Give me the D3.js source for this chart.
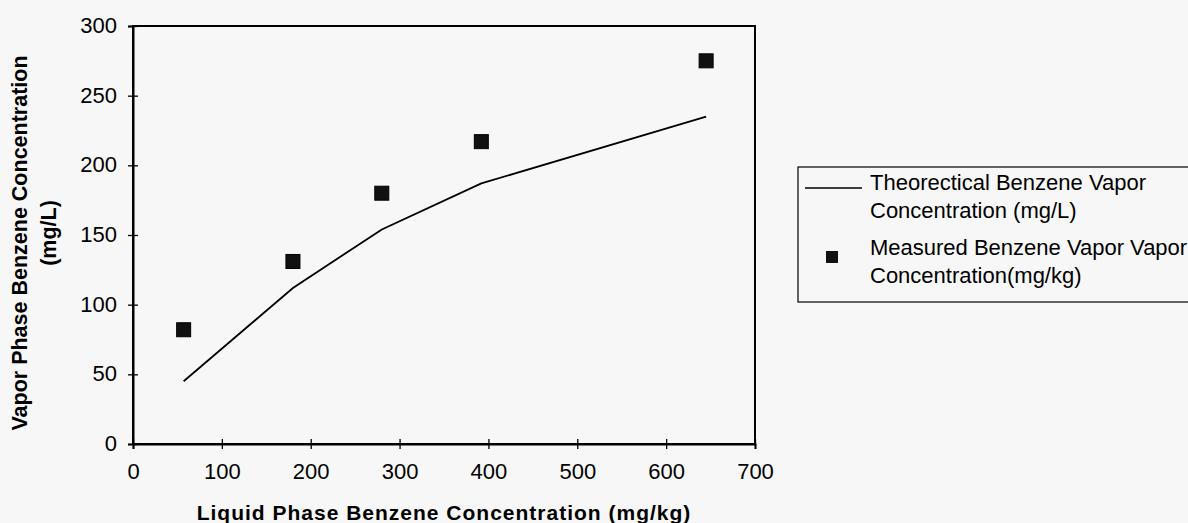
<!DOCTYPE html>
<html>
<head>
<meta charset="utf-8">
<script src="https://cdn.jsdelivr.net/npm/d3@7/dist/d3.min.js"></script>
<style>
  html, body { margin: 0; padding: 0; background: #f7f7f7; }
  svg { display: block; }
  text { font-family: Arial, "Liberation Sans", sans-serif; fill: #000; }
</style>
</head>
<body>
<svg id="chart" width="1188" height="523"></svg>
<script>
// ---- data ----
const theoX = [57, 180, 280, 392, 645];
const theoY = [45, 112, 154, 187, 235];
const measX = [57, 180, 280, 392, 645];
const measY = [82, 131, 180, 217, 275];
const xTicks = [0, 100, 200, 300, 400, 500, 600, 700];
const yTicks = [0, 50, 100, 150, 200, 250, 300];
const legendLabels = [
  ["Theorectical Benzene Vapor", "Concentration (mg/L)"],
  ["Measured Benzene Vapor Vapor", "Concentration(mg/kg)"]
];
const xTitle = "Liquid Phase Benzene Concentration (mg/kg)";
const yTitle = ["Vapor Phase Benzene Concentration", "(mg/L)"];

// ---- layout ----
const svg = d3.select("#chart");
const L = 133, R = 755, T = 26, B = 444;
const x = d3.scaleLinear().domain([0, 700]).range([L, R]);
const y = d3.scaleLinear().domain([0, 300]).range([B, T]);
const FONT = "Arial, 'Liberation Sans', sans-serif";

// plot frame
svg.append("rect")
  .attr("x", L).attr("y", T).attr("width", R - L).attr("height", B - T)
  .attr("fill", "none").attr("stroke", "#000").attr("stroke-width", 2);

// x axis
const gx = svg.append("g").attr("transform", `translate(0,${B})`)
  .call(d3.axisBottom(x).tickValues(xTicks).tickFormat(d3.format("d")).tickSize(5).tickPadding(14));
gx.select(".domain").attr("stroke", "#000").attr("stroke-width", 2);
gx.selectAll(".tick line").attr("y1", -5).attr("y2", 5).attr("stroke", "#000").attr("stroke-width", 1.3);
gx.selectAll(".tick text").attr("y", 19).attr("font-size", 22).style("font-family", FONT);

// y axis
const gy = svg.append("g").attr("transform", `translate(${L},0)`)
  .call(d3.axisLeft(y).tickValues(yTicks).tickFormat(d3.format("d")).tickSize(5).tickPadding(11));
gy.select(".domain").attr("stroke", "#000").attr("stroke-width", 2);
gy.selectAll(".tick line").attr("x1", -5).attr("x2", 5).attr("stroke", "#000").attr("stroke-width", 1.3);
gy.selectAll(".tick text").attr("x", -16).attr("dy", "0.3em").attr("font-size", 22).style("font-family", FONT);
svg.selectAll(".domain").raise();

// theoretical line
const theo = theoX.map((d, i) => [d, theoY[i]]);
svg.append("path").datum(theo)
  .attr("fill", "none").attr("stroke", "#000").attr("stroke-width", 1.8)
  .attr("d", d3.line().x(d => x(d[0])).y(d => y(d[1])));

// measured squares
const S = 14;
const meas = measX.map((d, i) => [d, measY[i]]);
svg.selectAll("rect.m").data(meas).enter().append("rect").attr("class", "m")
  .attr("x", d => x(d[0]) - S / 2).attr("y", d => y(d[1]) - S / 2)
  .attr("width", S).attr("height", S)
  .attr("fill", "#111").attr("stroke", "#000").attr("stroke-width", 1);

// axis titles
svg.append("text").attr("x", 444).attr("y", 520).attr("text-anchor", "middle")
  .attr("font-size", 21).attr("font-weight", "bold").attr("letter-spacing", 1)
  .text(xTitle);
const yt = svg.append("g").attr("transform", "translate(0,243) rotate(-90)");
yt.append("text").attr("x", 0).attr("y", 27).attr("text-anchor", "middle")
  .attr("font-size", 21.5).attr("font-weight", "bold").text(yTitle[0]);
yt.append("text").attr("x", 10).attr("y", 56).attr("text-anchor", "middle")
  .attr("font-size", 21.5).attr("font-weight", "bold").text(yTitle[1]);

// legend
const lg = svg.append("g");
lg.append("rect").attr("x", 798).attr("y", 167).attr("width", 420).attr("height", 135)
  .attr("fill", "none").attr("stroke", "#000").attr("stroke-width", 1.2);
lg.append("line").attr("x1", 805).attr("x2", 862).attr("y1", 188).attr("y2", 188)
  .attr("stroke", "#000").attr("stroke-width", 1.5);
lg.append("rect").attr("x", 832 - 6).attr("y", 257 - 6).attr("width", 12).attr("height", 12)
  .attr("fill", "#111");
const baselines = [[190, 218], [255, 283]];
legendLabels.forEach((lines, i) => {
  lines.forEach((t, j) => {
    lg.append("text").attr("x", 870).attr("y", baselines[i][j])
      .attr("font-size", 22).text(t);
  });
});
</script>
</body>
</html>
